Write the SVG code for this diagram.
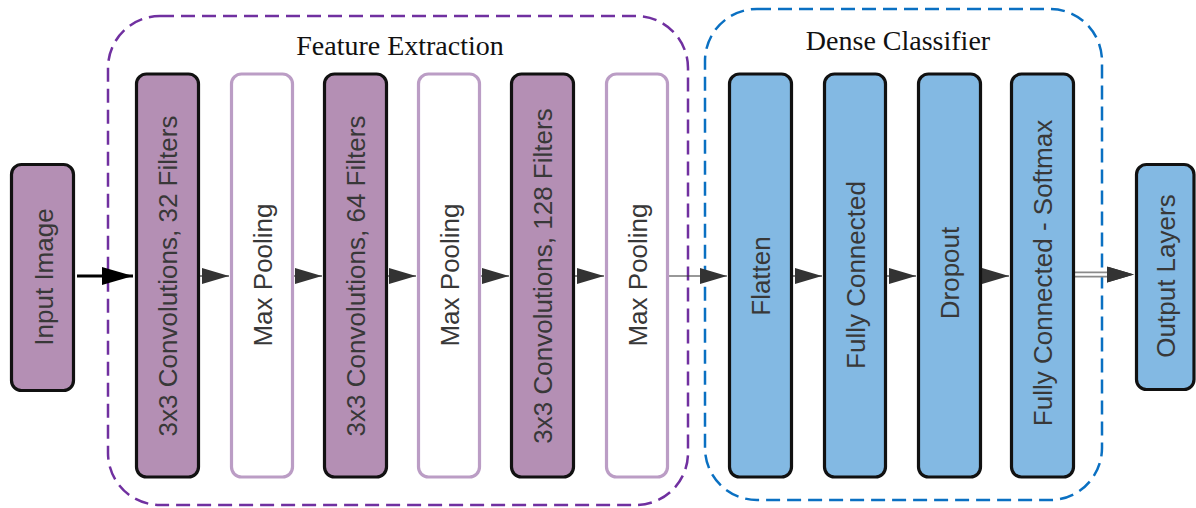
<svg xmlns="http://www.w3.org/2000/svg" width="1196" height="508" viewBox="0 0 1196 508">
<defs>
<style>
.dark{fill:#B48FB4;stroke:#111;stroke-width:3.2}
.pool{fill:#fff;stroke:#BB9DC5;stroke-width:3.2}
.blue{fill:#83B9E3;stroke:#111;stroke-width:3.2}
.lbl{font-family:"Liberation Sans",Arial,sans-serif;font-size:26px;fill:#383838;text-anchor:middle}
.ttl{font-family:"Liberation Serif","Times New Roman",serif;font-size:28px;fill:#111;text-anchor:middle}
.grp1{fill:none;stroke:#7030A0;stroke-width:2.5;stroke-dasharray:14 7}
.grp2{fill:none;stroke:#0A70C2;stroke-width:2.5;stroke-dasharray:14 7}
.ln{stroke:#333;stroke-width:1.2;fill:none}
</style>
<marker id="ah" markerUnits="userSpaceOnUse" markerWidth="27" markerHeight="16" refX="27" refY="8" orient="auto">
<path d="M0,0 L27,8 L0,16 Z" fill="#333"/>
</marker>
<marker id="ahb" markerUnits="userSpaceOnUse" markerWidth="31" markerHeight="18" refX="31" refY="9" orient="auto">
<path d="M0,0 L31,9 L0,18 Z" fill="#000"/>
</marker>
</defs>
<rect x="0" y="0" width="1196" height="508" fill="#fff"/>

<g id="feature-extraction">
<rect class="grp1" x="108" y="16" width="580" height="489" rx="52"/>
<text class="ttl" x="400" y="55">Feature Extraction</text>
</g>
<g id="dense-classifier">
<rect class="grp2" x="705" y="9" width="397" height="491" rx="52"/>
<text class="ttl" x="898" y="50">Dense Classifier</text>
</g>

<g id="connectors">
<line x1="77" y1="276" x2="133" y2="276" stroke="#000" stroke-width="3" marker-end="url(#ahb)"/>
<line class="ln" x1="200" y1="276" x2="229" y2="276" marker-end="url(#ah)"/>
<line class="ln" x1="294" y1="276" x2="322" y2="276" marker-end="url(#ah)"/>
<line class="ln" x1="388" y1="276" x2="416" y2="276" marker-end="url(#ah)"/>
<line class="ln" x1="481" y1="276" x2="509" y2="276" marker-end="url(#ah)"/>
<line class="ln" x1="575" y1="276" x2="604" y2="276" marker-end="url(#ah)"/>
<line class="ln" x1="669" y1="276" x2="727" y2="276" marker-end="url(#ah)"/>
<line class="ln" x1="793" y1="276" x2="822" y2="276" marker-end="url(#ah)"/>
<line class="ln" x1="887" y1="276" x2="916" y2="276" marker-end="url(#ah)"/>
<line class="ln" x1="982" y1="276" x2="1009" y2="276" marker-end="url(#ah)"/>
<line x1="1075" y1="274.5" x2="1112" y2="274.5" stroke="#8a8a8a" stroke-width="6"/>
<line x1="1073" y1="274.5" x2="1112" y2="274.5" stroke="#fff" stroke-width="2.5"/>
<line x1="1108" y1="274.5" x2="1134" y2="274.5" stroke="none" marker-end="url(#ah)"/>
<path d="M1107,266.5 L1134,274.5 L1107,282.5 Z" fill="#333"/>
</g>

<g id="input-image">
<rect class="dark" x="11.5" y="164.5" width="62" height="226" rx="10"/>
<text class="lbl" x="53" y="277" transform="rotate(-90 53 277)">Input Image</text>
</g>
<g id="conv1">
<rect class="dark" x="136.5" y="74" width="62" height="403" rx="10"/>
<text class="lbl" x="177" y="276" transform="rotate(-90 177 276)">3x3 Convolutions, 32 Filters</text>
</g>
<g id="pool1">
<rect class="pool" x="231.5" y="74" width="61" height="403" rx="10"/>
<text class="lbl" x="272" y="275" transform="rotate(-90 272 275)">Max Pooling</text>
</g>
<g id="conv2">
<rect class="dark" x="324.5" y="74" width="62" height="403" rx="10"/>
<text class="lbl" x="365" y="276" transform="rotate(-90 365 276)">3x3 Convolutions, 64 Filters</text>
</g>
<g id="pool2">
<rect class="pool" x="418.5" y="74" width="61" height="403" rx="10"/>
<text class="lbl" x="459" y="275" transform="rotate(-90 459 275)">Max Pooling</text>
</g>
<g id="conv3">
<rect class="dark" x="511.5" y="74" width="62" height="403" rx="10"/>
<text class="lbl" x="552" y="276" transform="rotate(-90 552 276)">3x3 Convolutions, 128 Filters</text>
</g>
<g id="pool3">
<rect class="pool" x="606.5" y="74" width="61" height="403" rx="10"/>
<text class="lbl" x="647" y="275" transform="rotate(-90 647 275)">Max Pooling</text>
</g>
<g id="flatten">
<rect class="blue" x="729.5" y="74" width="62" height="403" rx="10"/>
<text class="lbl" x="770" y="276" transform="rotate(-90 770 276)">Flatten</text>
</g>
<g id="fc1">
<rect class="blue" x="824.5" y="74" width="61" height="403" rx="10"/>
<text class="lbl" x="865" y="275" transform="rotate(-90 865 275)">Fully Connected</text>
</g>
<g id="dropout">
<rect class="blue" x="918.5" y="74" width="62" height="403" rx="10"/>
<text class="lbl" x="959" y="273" transform="rotate(-90 959 273)">Dropout</text>
</g>
<g id="fc-softmax">
<rect class="blue" x="1011.5" y="74" width="62" height="403" rx="10"/>
<text class="lbl" x="1052" y="273" transform="rotate(-90 1052 273)">Fully Connected - Softmax</text>
</g>
<g id="output-layers">
<rect class="blue" x="1136.5" y="164.5" width="57.5" height="225" rx="10"/>
<text class="lbl" x="1175" y="276" transform="rotate(-90 1175 276)">Output Layers</text>
</g>
</svg>
